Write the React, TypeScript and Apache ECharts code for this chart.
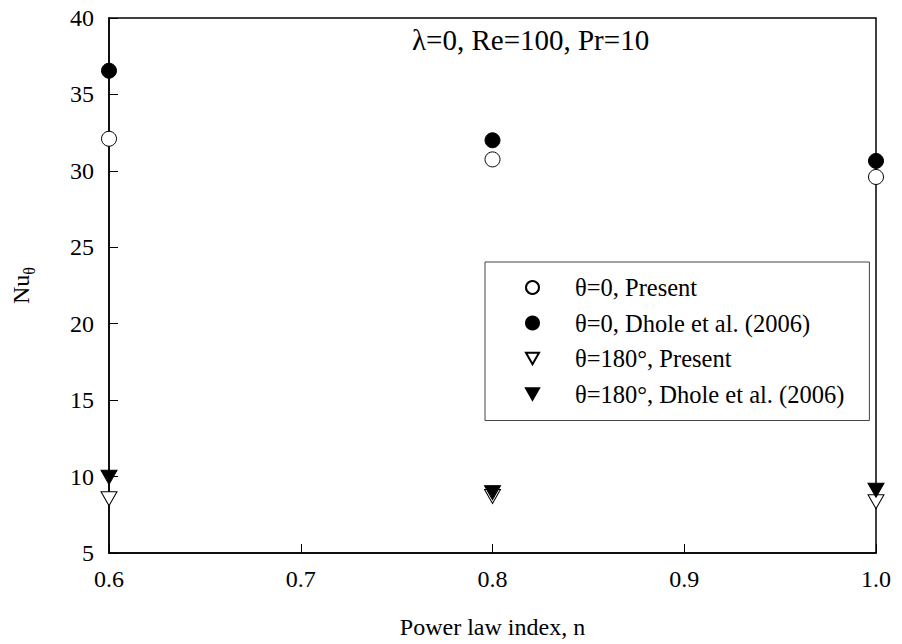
import React, { useEffect, useRef } from "react";
import * as echarts from "echarts";

const FONT = "Liberation Serif";

const nValues = [0.6, 0.8, 1.0];
const nuTheta0Present = [32.1, 30.75, 29.6];
const nuTheta0Dhole = [36.55, 32.0, 30.65];
const nuTheta180Present = [8.55, 8.7, 8.35];
const nuTheta180Dhole = [9.95, 8.95, 9.1];

const seriesNames = [
  "θ=0, Present",
  "θ=0, Dhole et al. (2006)",
  "θ=180°, Present",
  "θ=180°, Dhole et al. (2006)",
];

const TRI_DOWN = "path://M0,0L16,0L8,14Z";

function pairs(ys: number[]) {
  return nValues.map((x, i) => [x, ys[i]]);
}

export default function App() {
  const ref = useRef<HTMLDivElement>(null);
  useEffect(() => {
    if (!ref.current) return;
    const chart = echarts.init(ref.current, null, { renderer: "svg" });
    const openStyle = { color: "#fff", borderColor: "#000", borderWidth: 1, opacity: 1 };
    const filledStyle = { color: "#000", borderColor: "#000", borderWidth: 1, opacity: 1 };
    chart.setOption({
      animation: false,
      backgroundColor: "#fff",
      textStyle: { fontFamily: FONT },
      grid: {
        left: 109,
        right: 26,
        top: 18,
        bottom: 90,
        show: true,
        borderColor: "#000",
        borderWidth: 1.5,
        backgroundColor: "transparent",
      },
      xAxis: {
        type: "value",
        min: 0.6,
        max: 1.0,
        interval: 0.1,
        name: "Power law index, n",
        nameLocation: "middle",
        nameGap: 62,
        nameTextStyle: { fontFamily: FONT, fontSize: 24, color: "#000" },
        axisLine: { show: true, lineStyle: { color: "#000", width: 1.5 } },
        axisTick: { show: true, inside: true, length: 9, lineStyle: { color: "#000", width: 1 } },
        axisLabel: {
          fontFamily: FONT,
          fontSize: 24,
          color: "#000",
          margin: 14,
          formatter: (v: number) => v.toFixed(1),
        },
        splitLine: { show: false },
      },
      yAxis: {
        type: "value",
        min: 5,
        max: 40,
        interval: 5,
        name: "{n|Nu}{s|θ}",
        nameLocation: "middle",
        nameGap: 72,
        nameTextStyle: {
          fontFamily: FONT,
          color: "#000",
          rich: {
            n: { fontFamily: FONT, fontSize: 24, color: "#000", lineHeight: 32, verticalAlign: "middle" },
            s: { fontFamily: FONT, fontSize: 16, color: "#000", lineHeight: 32, verticalAlign: "bottom" },
          },
        },
        axisLine: { show: true, lineStyle: { color: "#000", width: 1.5 } },
        axisTick: { show: true, inside: true, length: 9, lineStyle: { color: "#000", width: 1 } },
        axisLabel: { fontFamily: FONT, fontSize: 24, color: "#000", margin: 15 },
        splitLine: { show: false },
      },
      legend: {
        orient: "vertical",
        left: 485,
        top: 262,
        itemWidth: 13,
        itemHeight: 13,
        itemGap: 10.5,
        padding: [13, 25, 14, 40],
        borderColor: "#444",
        borderWidth: 1,
        backgroundColor: "#fff",
        textStyle: { fontFamily: FONT, fontSize: 24.5, color: "#000", padding: [0, 0, 0, 31] },
        data: seriesNames,
      },
      graphic: [
        {
          type: "text",
          left: 412,
          top: 25,
          style: { text: "λ=0, Re=100, Pr=10", font: `29px ${FONT}`, fill: "#000" },
        },
      ],
      series: [
        {
          name: seriesNames[0],
          type: "scatter",
          symbol: "circle",
          symbolSize: 15,
          itemStyle: openStyle,
          data: pairs(nuTheta0Present),
          z: 3,
        },
        {
          name: seriesNames[1],
          type: "scatter",
          symbol: "circle",
          symbolSize: 15,
          itemStyle: filledStyle,
          data: pairs(nuTheta0Dhole),
          z: 3,
        },
        {
          name: seriesNames[2],
          type: "scatter",
          symbol: TRI_DOWN,
          symbolSize: [16, 14],
          itemStyle: openStyle,
          data: pairs(nuTheta180Present),
          z: 3,
        },
        {
          name: seriesNames[3],
          type: "scatter",
          symbol: TRI_DOWN,
          symbolSize: [16, 14],
          itemStyle: filledStyle,
          data: pairs(nuTheta180Dhole),
          z: 4,
        },
      ],
    });
    return () => chart.dispose();
  }, []);
  return (
    <div
      ref={ref}
      style={{ position: "fixed", left: 0, top: 0, width: 902, height: 644 }}
    />
  );
}
